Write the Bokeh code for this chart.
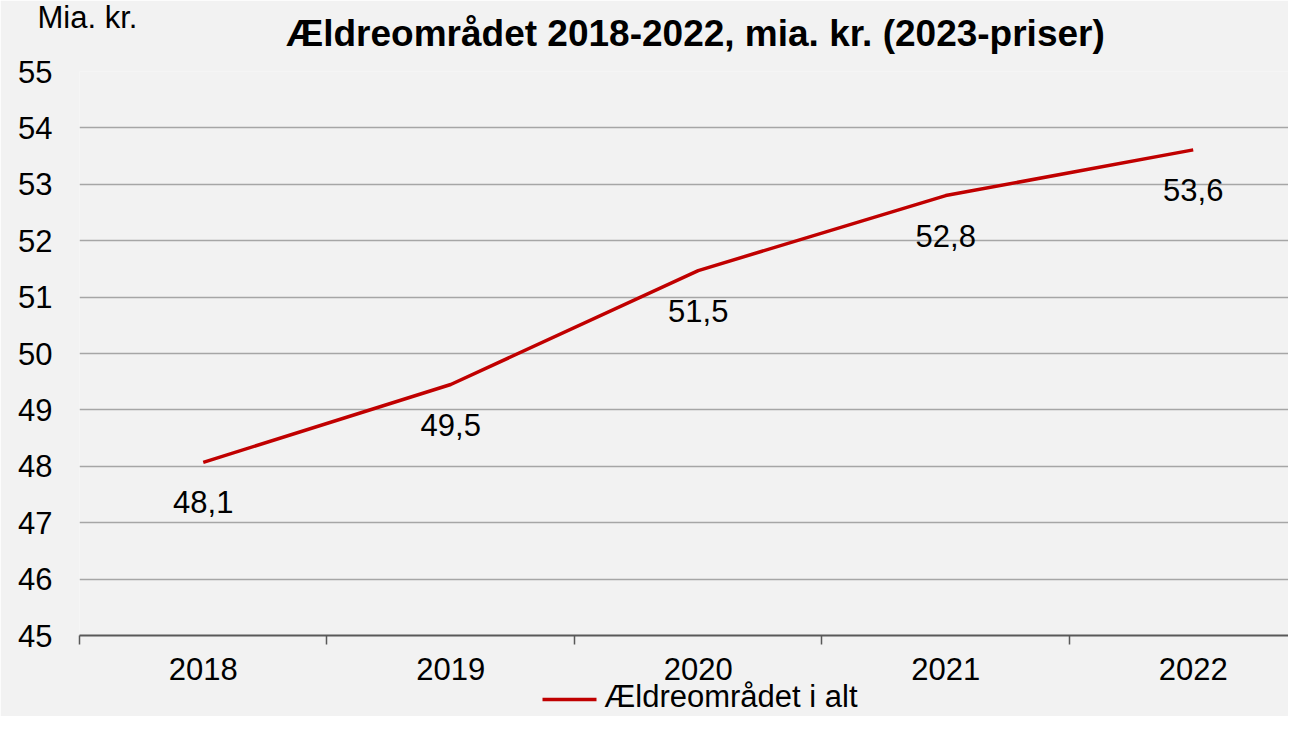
from bokeh.plotting import figure
from bokeh.models import Range1d, FixedTicker, LinearAxis
from bokeh.embed import file_html
from bokeh.resources import INLINE

years = ["2018", "2019", "2020", "2021", "2022"]
values = [48.07, 49.45, 51.47, 52.8, 53.61]
value_labels = ["48,1", "49,5", "51,5", "52,8", "53,6"]
y_ticks = [45, 46, 47, 48, 49, 50, 51, 52, 53, 54, 55]
series_name = "Ældreområdet i alt"
title_text = "Ældreområdet 2018-2022, mia. kr. (2023-priser)"
y_unit = "Mia. kr."

FONT = "Liberation Sans"
BG = "#f2f2f2"
RED = "#c00000"

xs = [i + 0.5 for i in range(len(years))]

p = figure(width=1288, height=716, output_backend="svg", toolbar_location=None,
           x_range=Range1d(0, 4.885), y_range=Range1d(45, 55),
           min_border_left=79, min_border_right=0, min_border_top=71, min_border_bottom=78)
p.background_fill_color = BG
p.border_fill_color = BG
p.outline_line_color = None

xa = p.below[0]
ya = p.left[0]

# unit text ("Mia. kr.") as the outer title, left aligned beyond the frame
p.title.text = y_unit
p.title.text_font = FONT
p.title.text_font_size = "31px"
p.title.text_font_style = "normal"
p.title.align = "left"
p.title.offset = -42
p.title.standoff = -51
p.title.text_color = "#000000"

# main chart title, centred above the plot
title_x = 2.489
title_axis = LinearAxis(ticker=FixedTicker(ticks=[title_x]),
                        major_label_overrides={title_x: title_text},
                        axis_line_color=None, major_tick_line_color=None,
                        minor_tick_line_color=None, major_tick_out=0, minor_tick_out=0,
                        major_label_standoff=18,
                        major_label_text_font=FONT, major_label_text_font_size="37px",
                        major_label_text_font_style="bold",
                        major_label_text_color="#000000")
p.add_layout(title_axis, "above")

# x axis
xa.ticker = FixedTicker(ticks=xs, minor_ticks=list(range(len(years))))
xa.major_label_overrides = {x: y for x, y in zip(xs, years)}
xa.major_tick_line_color = None
xa.major_tick_out = 0
xa.major_tick_in = 0
xa.minor_tick_line_color = "#595959"
xa.minor_tick_line_width = 1.5
xa.minor_tick_in = 0
xa.minor_tick_out = 9
xa.axis_line_color = "#595959"
xa.axis_line_width = 2
xa.major_label_text_font = FONT
xa.major_label_text_font_size = "31px"
xa.major_label_text_color = "#000000"
xa.major_label_standoff = 13
p.xgrid.grid_line_color = None

# spacer between the category labels and the legend row
spacer = LinearAxis(ticker=FixedTicker(ticks=[2.5]), major_label_overrides={2.5: ""},
                    axis_line_color=None, major_tick_line_color=None,
                    minor_tick_line_color=None, major_tick_out=17, minor_tick_out=0,
                    major_tick_in=0, major_label_standoff=0,
                    major_label_text_font_size="1px")
p.add_layout(spacer, "below")

# legend row: red sample line (bounded axis line) + series name
leg_line = (1.871, 2.089)
leg_text_x = 2.632
legend_axis = LinearAxis(ticker=FixedTicker(ticks=[leg_text_x]),
                         major_label_overrides={leg_text_x: series_name},
                         bounds=leg_line, axis_line_color=RED, axis_line_width=3.5,
                         major_tick_line_color=None, minor_tick_line_color=None,
                         major_tick_out=0, minor_tick_out=0, major_label_standoff=-21,
                         major_label_text_font=FONT, major_label_text_font_size="31px",
                         major_label_text_color="#000000")
p.add_layout(legend_axis, "below")

# y axis
ya.ticker = FixedTicker(ticks=y_ticks)
ya.axis_line_color = None
ya.major_tick_line_color = None
ya.major_tick_out = 0
ya.major_tick_in = 0
ya.minor_tick_line_color = None
ya.major_label_text_font = FONT
ya.major_label_text_font_size = "31px"
ya.major_label_text_color = "#000000"
ya.major_label_standoff = 27
p.ygrid.grid_line_color = "#a6a6a6"
p.ygrid.grid_line_width = 1.5

p.line(xs, values, line_color=RED, line_width=3.5)

p.text(xs, values, text=value_labels, text_align="center", text_baseline="middle",
       y_offset=40, text_font_size="31px", text_color="#000000",
       text_font={"value": FONT})

open("out.html", "w").write(file_html(p, INLINE))
